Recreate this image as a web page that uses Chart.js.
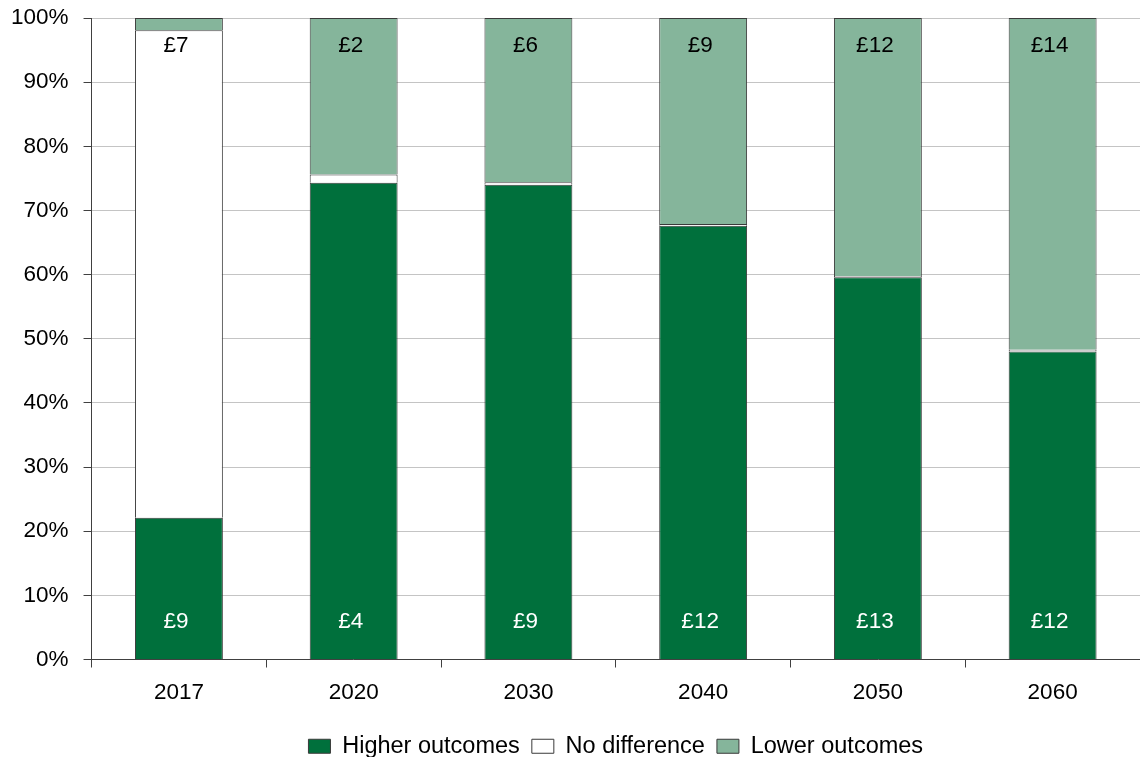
<!DOCTYPE html>
<html>
<head>
<meta charset="utf-8">
<script src="https://cdn.jsdelivr.net/npm/chart.js@4"></script>
<style>
html,body{margin:0;padding:0;background:#fff;}
#wrap{width:1140px;height:757px;position:relative;}
</style>
</head>
<body>
<div id="wrap"><canvas id="c"></canvas></div>
<script>
const categories = ['2017','2020','2030','2040','2050','2060'];
const higherOutcomes = [22.1, 74.3, 74.0, 67.6, 59.6, 48.0];
const noDifference  = [76.0, 1.3, 0.4, 0.3, 0.2, 0.3];
const lowerOutcomes = [1.9, 24.4, 25.6, 32.1, 40.2, 51.7];
const higherLabels = ['£9','£4','£9','£12','£13','£12'];
const lowerLabels  = ['£7','£2','£6','£9','£12','£14'];
const yTicks = [0,10,20,30,40,50,60,70,80,90,100];

const FONT = "'Liberation Sans', Arial, sans-serif";

const labelPlugin = {
  id: 'valueLabels',
  afterDatasetsDraw(chart) {
    const ctx = chart.ctx;
    const y = chart.scales.y;
    const meta = chart.getDatasetMeta(0);
    ctx.save();
    ctx.font = '22.5px ' + FONT;
    ctx.textAlign = 'center';
    ctx.textBaseline = 'middle';
    meta.data.forEach((bar, i) => {
      ctx.fillStyle = '#ffffff';
      ctx.fillText(higherLabels[i], bar.x - 3, y.getPixelForValue(5.9));
      ctx.fillStyle = '#000000';
      ctx.fillText(lowerLabels[i], bar.x - 3, y.getPixelForValue(95.6));
    });
    ctx.restore();
  }
};

new Chart(document.getElementById('c'), {
  type: 'bar',
  data: {
    labels: categories,
    datasets: [
      {label: 'Higher outcomes', data: higherOutcomes, backgroundColor: '#00703C', borderColor: '#3a3a3a', borderWidth: 1},
      {label: 'No difference', data: noDifference, backgroundColor: '#ffffff', borderColor: '#3a3a3a', borderWidth: 1},
      {label: 'Lower outcomes', data: lowerOutcomes, backgroundColor: '#85B59B', borderColor: '#3a3a3a', borderWidth: 1}
    ]
  },
  options: {
    responsive: true,
    maintainAspectRatio: false,
    animation: false,
    categoryPercentage: 1,
    barPercentage: 0.503,
    layout: {padding: {top: 0, right: 0, left: -4, bottom: -11}},
    plugins: {
      tooltip: {enabled: false},
      legend: {
        position: 'bottom',
        fullSize: false,
        labels: {
          font: {family: FONT, size: 23.5},
          color: '#000',
          boxWidth: 22,
          boxHeight: 14,
          padding: 12
        }
      }
    },
    scales: {
      x: {
        stacked: true,
        border: {display: true, color: '#404040', width: 1},
        grid: {display: true, drawOnChartArea: false, offset: true, drawTicks: true, tickLength: 8, tickColor: '#404040'},
        ticks: {font: {family: FONT, size: 22.5}, color: '#000', padding: 12},
        afterFit(scale) { scale.height += 4; }
      },
      y: {
        stacked: true,
        min: 0,
        max: 100,
        afterBuildTicks(scale) { scale.ticks = yTicks.map(v => ({value: v})); },
        afterFit(scale) { scale.paddingTop = 18; },
        border: {display: true, color: '#404040', width: 1},
        grid: {color: '#c4c4c4', lineWidth: 1, tickLength: 8, tickColor: '#404040'},
        ticks: {font: {family: FONT, size: 22.5}, color: '#000', padding: 15, callback: v => v + '%'}
      }
    }
  },
  plugins: [labelPlugin]
});
</script>
</body>
</html>
